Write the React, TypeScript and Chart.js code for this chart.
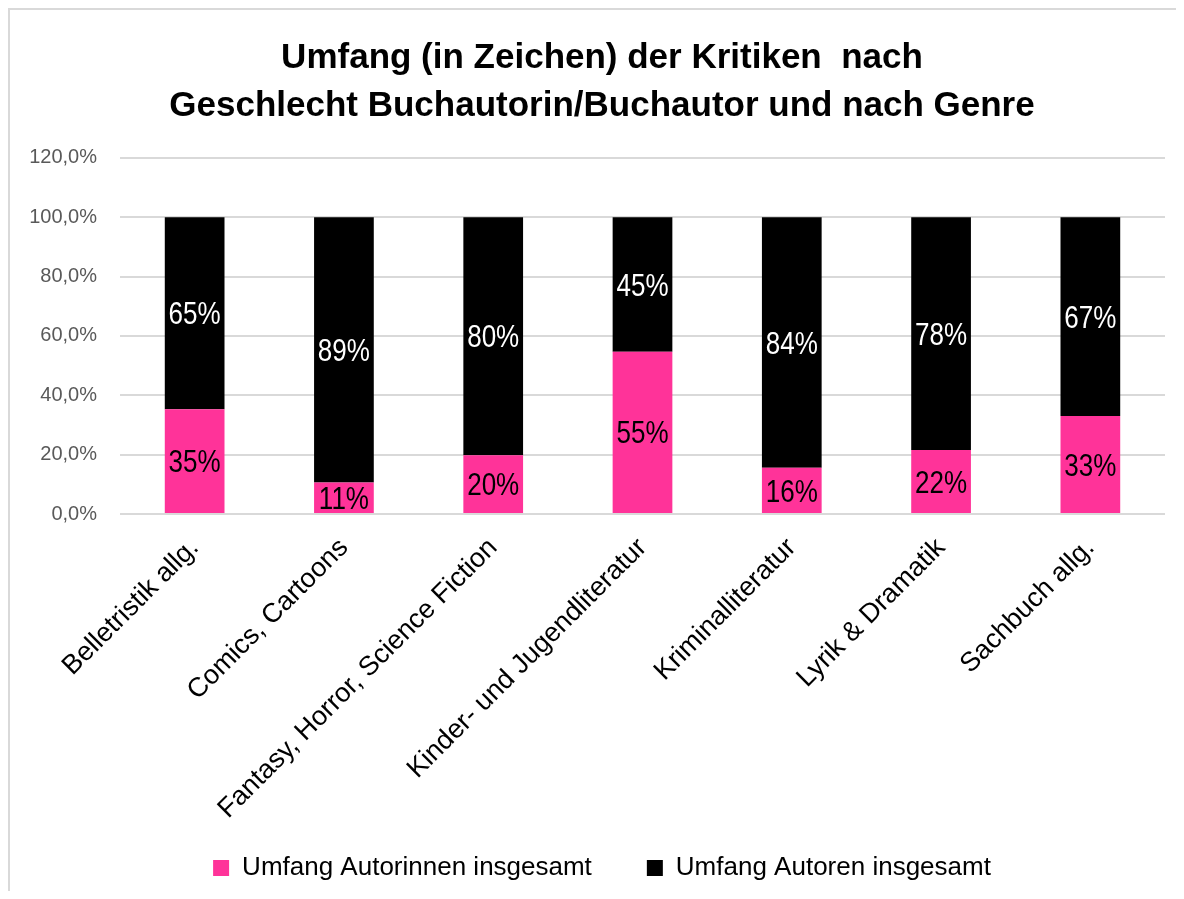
import React, { useEffect, useRef } from "react";
import { Chart, registerables } from "chart.js";

Chart.register(...registerables);

const categories = [
  "Belletristik allg.",
  "Comics, Cartoons",
  "Fantasy, Horror, Science Fiction",
  "Kinder- und Jugendliteratur",
  "Kriminalliteratur",
  "Lyrik & Dramatik",
  "Sachbuch allg.",
];
const autorinnen = [35.3, 10.6, 19.8, 54.7, 15.6, 21.6, 33.0];
const autoren = [64.7, 89.4, 80.2, 45.3, 84.4, 78.4, 67.0];
const seriesNames = ["Umfang Autorinnen insgesamt", "Umfang Autoren insgesamt"];
const titleLines = ["Umfang (in Zeichen) der Kritiken  nach", "Geschlecht Buchautorin/Buchautor und nach Genre"];

const SANS = "'Liberation Sans', Arial, sans-serif";

const labelPlugin = {
  id: "segLabels",
  afterDatasetsDraw(chart: any) {
    const ctx = chart.ctx;
    const size = 31;
    const squeeze = 0.84;
    ctx.save();
    ctx.font = `${size}px ${SANS}`;
    ctx.textAlign = "center";
    ctx.textBaseline = "alphabetic";
    chart.data.datasets.forEach((ds: any, di: number) => {
      const meta = chart.getDatasetMeta(di);
      meta.data.forEach((el: any, i: number) => {
        const v = ds.data[i];
        const mid = (el.y + el.base) / 2;
        ctx.save();
        ctx.translate(el.x, mid + size * 0.36);
        ctx.scale(squeeze, 1);
        ctx.fillStyle = di === 0 ? "#000000" : "#ffffff";
        ctx.fillText(Math.round(v) + "%", 0, 0);
        ctx.restore();
      });
    });
    ctx.restore();
  },
};

const noClip = (s: any) => {
  s._computeLabelArea = () => undefined;
};

export default function App() {
  const ref = useRef<HTMLCanvasElement>(null);
  useEffect(() => {
    if (!ref.current) return;
    const chart = new Chart(ref.current, {
      type: "bar",
      data: {
        labels: categories,
        datasets: [
          { label: seriesNames[0], data: autorinnen, backgroundColor: "#ff3399", barPercentage: 0.4, categoryPercentage: 1 },
          { label: seriesNames[1], data: autoren, backgroundColor: "#000000", barPercentage: 0.4, categoryPercentage: 1 },
        ],
      },
      options: {
        responsive: false,
        animation: false,
        layout: { padding: { left: 29, right: 29, top: 0, bottom: 0 } },
        plugins: {
          title: {
            display: true,
            text: titleLines,
            color: "#000000",
            font: { family: SANS, size: 35, weight: "bold", lineHeight: 1.37 },
            padding: { top: 24, bottom: 28 },
          },
          legend: {
            position: "bottom",
            maxHeight: 94,
            labels: {
              color: "#000000",
              font: { family: SANS, size: 26 },
              boxWidth: 16,
              boxHeight: 16,
              padding: 55,
            },
          },
          tooltip: { enabled: false },
        },
        scales: {
          x: {
            stacked: true,
            grid: { display: false },
            border: { display: false },
            afterFit: (s: any) => {
              s.paddingLeft = 0;
              s.paddingRight = 0;
              s.height = 286;
              noClip(s);
            },
            ticks: {
              color: "#000000",
              font: { family: SANS, size: 27 },
              maxRotation: 45,
              minRotation: 45,
              autoSkip: false,
              padding: 10,
            },
          },
          y: {
            stacked: true,
            min: 0,
            max: 120,
            afterFit: (s: any) => {
              s.width = 81;
              noClip(s);
            },
            grid: { color: "#d9d9d9", lineWidth: 2, drawTicks: false },
            border: { display: false },
            ticks: {
              stepSize: 20,
              color: "#595959",
              padding: 23,
              font: { family: SANS, size: 20 },
              callback: (v: any) => Number(v).toFixed(1).replace(".", ",") + "%",
            },
          },
        },
      },
      plugins: [labelPlugin],
    });
    return () => chart.destroy();
  }, []);
  return (
    <div style={{ width: 1176, height: 883, overflow: "hidden" }}>
      <div style={{ width: 1200, height: 883, borderLeft: "2px solid #d9d9d9", borderTop: "2px solid #d9d9d9", boxSizing: "border-box" }}>
        <canvas ref={ref} width={1184} height={881} style={{ display: "block" }} />
      </div>
    </div>
  );
}
